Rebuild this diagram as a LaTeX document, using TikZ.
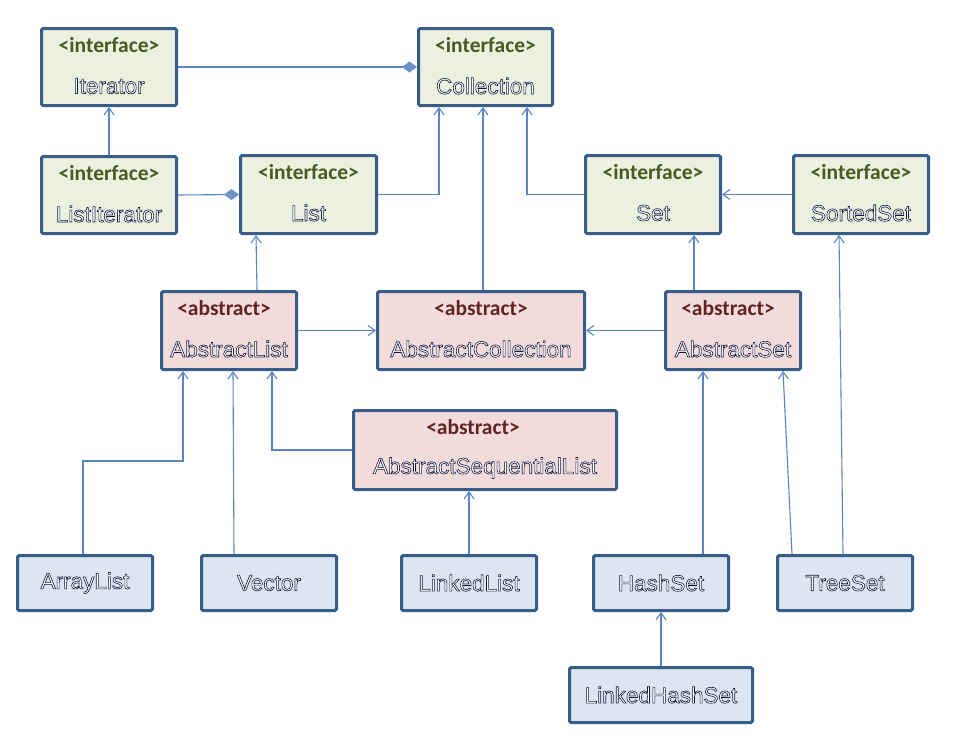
\documentclass[tikz,border=0pt]{standalone}
\usepackage{fontspec}
\setmainfont{Liberation Sans}
\newfontfamily\stfont{Carlito}
\newfontfamily\nmfont{Liberation Sans}
\usetikzlibrary{arrows.meta,calc}
\definecolor{bord}{HTML}{385D8A}
\definecolor{ifill}{HTML}{EBF1DE}
\definecolor{afill}{HTML}{F2DCDB}
\definecolor{cfill}{HTML}{DCE6F2}
\definecolor{conn}{HTML}{5B86C2}
\definecolor{dfill}{HTML}{6F91C8}
\definecolor{itext}{HTML}{4A5A22}
\definecolor{atext}{HTML}{632423}
\newcommand{\outlined}[1]{{\color{white}\special{pdf:literal direct 0.08 0.1 0.25 RG 0.6 w 2 Tr}#1\special{pdf:literal direct 0 Tr}}}
\tikzset{
  umlbox/.style={draw=bord, line width=3pt, rounded corners=1.5pt, inner sep=0pt, anchor=north west},
  ibox/.style={umlbox, fill=ifill},
  abox/.style={umlbox, fill=afill},
  cbox/.style={umlbox, fill=cfill},
  stI/.style={font=\stfont\bfseries\fontsize{21.5}{25}\selectfont, text=itext, inner sep=0pt},
  stA/.style={font=\stfont\bfseries\fontsize{21.5}{25}\selectfont, text=atext, inner sep=0pt},
  cname/.style={font=\nmfont\fontsize{22.5}{26}\selectfont, inner sep=0pt},
  link/.style={draw=conn, line width=1.1pt, -{Straight Barb[length=7pt,width=10pt,line width=1.1pt]}},
  agg/.style={draw=conn, line width=1.1pt, -{Diamond[length=15pt,width=11pt,fill=dfill,color=dfill]}}
}
\begin{document}
\begin{tikzpicture}[x=1pt,y=-1pt]
\useasboundingbox[fill=white] (0,0) rectangle (956,745);
% interfaces
\node[ibox, minimum width=135pt, minimum height=77pt] (iter) at (40,27) {};
\node[ibox, minimum width=134pt, minimum height=77pt] (coll) at (417,27) {};
\node[ibox, minimum width=135pt, minimum height=77pt] (litr) at (40,155) {};
\node[ibox, minimum width=136pt, minimum height=78pt] (list) at (239,154) {};
\node[ibox, minimum width=135pt, minimum height=78pt] (set) at (584,154) {};
\node[ibox, minimum width=135pt, minimum height=78pt] (sset) at (792,154) {};
% abstracts
\node[abox, minimum width=135pt, minimum height=78pt] (alist) at (160,290) {};
\node[abox, minimum width=207pt, minimum height=78pt] (acoll) at (376,290) {};
\node[abox, minimum width=135pt, minimum height=78pt] (aset) at (664,290) {};
\node[abox, minimum width=263pt, minimum height=79pt] (asl) at (352,409) {};
% classes
\node[cbox, minimum width=135pt, minimum height=55pt] (arr) at (16,554) {};
\node[cbox, minimum width=135pt, minimum height=55pt] (vec) at (200,554) {};
\node[cbox, minimum width=135pt, minimum height=55pt] (llist) at (400,554) {};
\node[cbox, minimum width=135pt, minimum height=55pt] (hset) at (592,554) {};
\node[cbox, minimum width=135pt, minimum height=55pt] (tset) at (776,554) {};
\node[cbox, minimum width=183pt, minimum height=55pt] (lhs) at (568,666) {};
% labels
\foreach \b/\n in {iter/Iterator, coll/Collection, litr/ListIterator, list/List, set/Set, sset/SortedSet}{
  \node[stI] (\b-st) at ($(\b.north)+(0,18)$) {<interface>};
  \node[cname] (\b-nm) at ($(\b.north)+(0,59)$) {\outlined{\n}};
}
\foreach \b/\n/\dx in {alist/AbstractList/-5, acoll/AbstractCollection/0, aset/AbstractSet/-5, asl/AbstractSequentialList/-12}{
  \node[stA] (\b-st) at ($(\b.north)+(\dx,18)$) {<abstract>};
  \node[cname] (\b-nm) at ($(\b.north)+(0,59)$) {\outlined{\n}};
}
\foreach \b/\n in {arr/ArrayList, vec/Vector, llist/LinkedList, hset/HashSet, tset/TreeSet, lhs/LinkedHashSet}{
  \node[cname] (\b-nm) at (\b.center) {\outlined{\n}};
}
% connection points
\coordinate (collA) at ($(coll.south west)+(22,0)$);
\coordinate (collB) at ($(coll.south west)+(66,0)$);
\coordinate (collC) at ($(coll.south west)+(110,0)$);
\coordinate (listB) at ($(list.south west)+(17,0)$);
\coordinate (setB) at ($(set.south west)+(110,0)$);
\coordinate (ssetB) at ($(sset.south west)+(47,0)$);
\coordinate (alistA) at ($(alist.south west)+(23,0)$);
\coordinate (alistB) at ($(alist.south west)+(73,0)$);
\coordinate (alistC) at ($(alist.south west)+(112,0)$);
\coordinate (asetA) at ($(aset.south west)+(39,0)$);
\coordinate (asetB) at ($(aset.south west)+(119,0)$);
\coordinate (arrT) at ($(arr.north west)+(67,0)$);
\coordinate (vecT) at ($(vec.north west)+(34,0)$);
\coordinate (hsetT) at ($(hset.north west)+(111,0)$);
\coordinate (tsetA) at ($(tset.north west)+(16,0)$);
\coordinate (tsetB) at ($(tset.north west)+(67,0)$);
\coordinate (asetT) at ($(aset.north west)+(30,0)$);
\coordinate (alistT) at ($(alist.north west)+(97,0)$);
% connectors
\draw[agg] (iter.east) -- (coll.west);
\draw[agg] (litr.east) -- (list.west);
\draw[link] (litr.north) -- (iter.south);
\draw[link] (list.east) -| (collA);
\draw[link] (acoll.north -| collB) -- (collB);
\draw[link] (set.west) -| (collC);
\draw[link] (sset.west) -- (set.east);
\draw[link] (alistT) -- (listB);
\draw[link] (alist.east) -- (acoll.west);
\draw[link] (aset.west) -- (acoll.east);
\draw[link] (asetT) -- (setB);
\draw[link] (arrT) |- (0,461 -| alistA) -- (alistA);
\draw[link] (vecT) -- (alistB);
\draw[link] (asl.west) -| (alistC);
\draw[link] (llist.north) -- (llist.north |- asl.south);
\draw[link] (hsetT) -- (asetA);
\draw[link] (tsetA) -- (asetB);
\draw[link] (tsetB) -- (ssetB);
\draw[link] (lhs.north) -- (hset.south);
\end{tikzpicture}
\end{document}
